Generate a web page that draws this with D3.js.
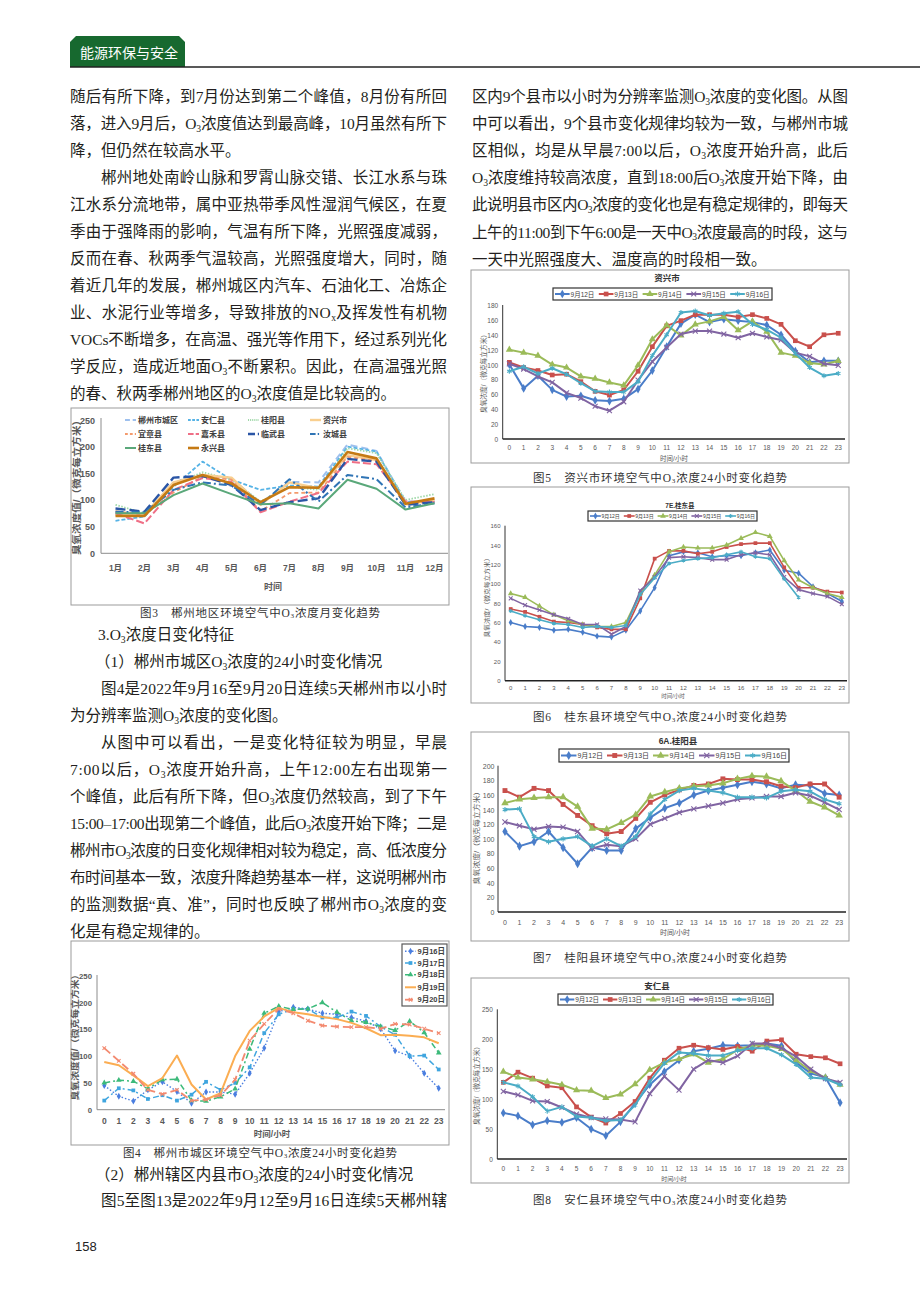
<!DOCTYPE html>
<html><head><meta charset="utf-8">
<script src="https://cdn.jsdelivr.net/npm/d3@7"></script>
<style>body{margin:0;background:#fff}svg{display:block}</style>
</head><body>
<svg id="page" width="920" height="1302"></svg>
<script>
// ---------------- DATA ----------------
const months = ["1月","2月","3月","4月","5月","6月","7月","8月","9月","10月","11月","12月"];
const hours = ["0","1","2","3","4","5","6","7","8","9","10","11","12","13","14","15","16","17","18","19","20","21","22","23"];
const fig3Names = ["郴州市城区","安仁县","桂阳县","资兴市","宜章县","嘉禾县","临武县","汝城县","桂东县","永兴县"];
const m_chenzhou = [77,72,133,147,141,94,134,133,204,192,97,97];
const m_anren    = [61,69,125,172,138,119,127,125,200,191,96,97];
const m_guiyang  = [91,75,129,152,138,97,125,119,197,188,100,111];
const m_zixing   = [72,72,133,147,142,91,133,122,184,175,92,100];
const m_yizhang  = [79,72,114,144,138,79,113,114,181,173,91,98];
const m_jiahe    = [75,56,119,141,134,77,97,113,172,167,97,96];
const m_linwu    = [84,78,142,145,128,81,96,103,177,172,91,96];
const m_rucheng  = [78,77,119,133,127,91,139,97,147,139,86,94];
const m_guidong  = [75,75,109,131,111,92,94,84,138,121,82,94];
const m_yongxing = [70,70,128,147,131,96,124,123,190,178,93,103];
const monthTicks = [0,50,100,150,200,250];

const fig4Days = ["9月16日","9月17日","9月18日","9月19日","9月20日"];
const c_0916 = [45,25,16,37,52,34,12,33,33,29,68,115,183,191,188,180,178,172,165,151,110,100,68,40];
const c_0917 = [17,40,36,20,27,17,28,52,37,50,79,143,178,188,188,172,172,183,175,155,140,100,101,75];
const c_0918 = [50,55,53,39,56,57,17,16,24,39,113,180,193,187,188,200,182,166,163,155,148,165,144,106];
const c_0919 = [89,83,64,44,59,101,47,19,31,100,147,174,190,182,178,173,169,162,152,139,140,138,135,124];
const c_0920 = [115,91,67,37,29,37,17,19,27,56,129,160,188,180,166,157,155,154,154,151,160,159,151,143];
const cityTicks = [0,50,100,150,200,250];

const countyDays = ["9月12日","9月13日","9月14日","9月15日","9月16日"];
const zx_0912 = [100,68,85,66,57,58,52,51,54,67,92,124,155,167,157,161,159,157,153,140,118,103,105,105];
const zx_0913 = [103,96,92,86,87,77,64,59,66,91,124,152,159,167,167,167,164,167,162,154,132,124,140,142];
const zx_0914 = [120,116,112,100,96,84,81,76,72,99,134,153,139,154,158,164,146,158,144,116,112,102,100,105];
const zx_0915 = [101,94,84,76,62,55,44,38,50,79,104,123,141,145,145,141,136,142,137,133,116,111,101,99];
const zx_0916 = [91,97,88,95,87,75,64,63,63,77,112,140,170,172,166,169,171,154,147,136,115,96,85,88];
const zxTicks = [0,20,40,60,80,100,120,140,160,180];

const gd_0912 = [60,56,55,52,53,50,46,45,52,72,96,129,133,132,128,129,129,132,135,114,111,97,90,82];
const gd_0913 = [74,71,66,61,60,58,55,53,53,85,126,134,134,131,133,138,141,142,142,117,96,96,92,91];
const gd_0914 = [90,86,77,68,62,58,56,56,60,91,109,133,138,137,137,140,147,153,149,124,104,96,90,86];
const gd_0915 = [85,78,73,68,64,58,58,48,56,93,107,127,128,127,125,125,130,132,130,107,94,90,87,79];
const gd_0916 = [72,67,63,59,58,55,56,55,57,89,106,121,124,126,127,130,133,128,126,105,86,null,null,null];
const gdTicks = [0,20,40,60,80,100,120,140,160];

const gy_0912 = [110,90,96,110,88,66,88,84,84,114,129,142,149,160,166,170,174,178,175,169,174,173,162,160];
const gy_0913 = [166,157,169,166,147,132,118,107,110,128,150,160,167,173,175,182,181,181,178,172,170,175,175,157];
const gy_0914 = [149,154,156,157,157,144,114,113,122,133,158,164,169,172,173,176,182,186,185,179,166,151,143,132];
const gy_0915 = [123,118,113,117,116,110,87,92,90,100,120,128,136,141,145,149,154,156,158,158,163,159,150,140];
const gy_0916 = [140,141,103,96,100,103,90,100,90,103,134,154,166,169,166,163,157,157,156,165,167,165,154,148];
const gyTicks = [0,20,40,60,80,100,120,140,160,180,200];

const ar_0912 = [77,72,57,64,61,69,50,39,62,93,124,146,165,180,184,190,189,190,193,189,161,143,136,94];
const ar_0913 = [128,145,135,122,119,87,70,60,76,96,135,165,185,190,186,183,188,180,197,199,175,171,169,159];
const ar_0914 = [146,136,133,129,124,115,114,102,108,125,149,161,167,175,161,167,182,190,189,184,165,147,136,124];
const ar_0915 = [113,107,97,96,86,75,69,67,66,62,109,138,115,150,165,161,172,193,193,185,171,150,134,128];
const ar_0916 = [128,122,104,80,87,71,69,64,65,90,129,160,178,176,173,173,181,185,185,174,158,136,134,124];
const arTicks = [0,50,100,150,200,250];

// ---------------- TEXT ----------------
const leftBlock1 = [
  ["随后有所下降，到7月份达到第二个峰值，8月份有所回",70,447],
  ["落，进入9月后，O_3浓度值达到最高峰，10月虽然有所下",70,447],
  ["降，但仍然在较高水平。",70,null],
  ["郴州地处南岭山脉和罗霄山脉交错、长江水系与珠",101,447],
  ["江水系分流地带，属中亚热带季风性湿润气候区，在夏",70,447],
  ["季由于强降雨的影响，气温有所下降，光照强度减弱，",70,447],
  ["反而在春、秋两季气温较高，光照强度增大，同时，随",70,447],
  ["着近几年的发展，郴州城区内汽车、石油化工、冶炼企",70,447],
  ["业、水泥行业等增多，导致排放的NO_x及挥发性有机物",70,447],
  ["VOCs不断增多，在高温、强光等作用下，经过系列光化",70,447],
  ["学反应，造成近地面O_3不断累积。因此，在高温强光照",70,447],
  ["的春、秋两季郴州地区的O_3浓度值是比较高的。",70,null]
];
const leftBlock2 = [
  ["3.O_3浓度日变化特征",98,null],
  ["（1）郴州市城区O_3浓度的24小时变化情况",95,null],
  ["图4是2022年9月16至9月20日连续5天郴州市以小时",101,447],
  ["为分辨率监测O_3浓度的变化图。",70,null],
  ["从图中可以看出，一是变化特征较为明显，早晨",101,447],
  ["7:00以后，O_3浓度开始升高，上午12:00左右出现第一",70,447],
  ["个峰值，此后有所下降，但O_3浓度仍然较高，到了下午",70,447],
  ["15:00–17:00出现第二个峰值，此后O_3浓度开始下降；二是",70,447],
  ["郴州市O_3浓度的日变化规律相对较为稳定，高、低浓度分",70,447],
  ["布时间基本一致，浓度升降趋势基本一样，这说明郴州市",70,447],
  ["的监测数据“真、准”，同时也反映了郴州市O_3浓度的变",70,447],
  ["化是有稳定规律的。",70,null]
];
const leftBlock3 = [
  ["（2）郴州辖区内县市O_3浓度的24小时变化情况",95,null],
  ["图5至图13是2022年9月12至9月16日连续5天郴州辖",101,447]
];
const rightBlock = [
  ["区内9个县市以小时为分辨率监测O_3浓度的变化图。从图",472,848],
  ["中可以看出，9个县市变化规律均较为一致，与郴州市城",472,848],
  ["区相似，均是从早晨7:00以后，O_3浓度开始升高，此后",472,848],
  ["O_3浓度维持较高浓度，直到18:00后O_3浓度开始下降，由",472,848],
  ["此说明县市区内O_3浓度的变化也是有稳定规律的，即每天",472,848],
  ["上午的11:00到下午6:00是一天中O_3浓度最高的时段，这与",472,848],
  ["一天中光照强度大、温度高的时段相一致。",472,null]
];

// ---------------- DRAW ----------------
const SERIF = "'Liberation Serif','Noto Sans CJK SC',serif";
const SANS = "'Liberation Sans','Noto Sans CJK SC',sans-serif";
const CJK = "'Noto Sans CJK SC',sans-serif";
const svg = d3.select("#page");

function rich(parent, str, x, y, o) {
  const size = o.size;
  const t = parent.append("text").attr("x", x).attr("y", y).attr("font-size", size)
    .attr("font-family", o.family || SERIF).attr("fill", o.fill || "#231f20")
    .attr("dominant-baseline", "central");
  if (o.weight) t.attr("font-weight", o.weight);
  const parts = str.split(/(_.)/).filter(p => p);
  let pend = 0, n = 0;
  parts.forEach(p => {
    if (p.length === 2 && p[0] === "_") {
      t.append("tspan").attr("font-size", size * 0.62).attr("dy", pend + size * 0.3).text(p[1]);
      pend = -size * 0.3; n += 1;
    } else {
      const ts = t.append("tspan").text(p);
      if (pend) ts.attr("dy", pend);
      pend = 0; n += [...p].length;
    }
  });
  if (o.width) {
    const nat = t.node().getComputedTextLength();
    t.attr("letter-spacing", (o.width - nat) / (n - 1));
  }
  return t;
}

// header
svg.append("path").attr("d", "M70,67V42L76,36H179L185,42V67Z").attr("fill", "#17692f");
svg.append("text").attr("x", 80).attr("y", 52).attr("dominant-baseline", "central")
  .attr("font-family", CJK).attr("font-size", 14).attr("fill", "#fff").text("能源环保与安全");
svg.append("line").attr("x1", 70).attr("x2", 920).attr("y1", 67).attr("y2", 67)
  .attr("stroke", "#222").attr("stroke-width", 1.5);

function block(lines, y0, dy) {
  lines.forEach((l, i) => {
    rich(svg, l[0], l[1], y0 + dy * i, {size: 15.5, width: l[2] ? l[2] - l[1] : null});
  });
}
block(leftBlock1, 96, 27);
block(leftBlock2, 634, 27);
block(leftBlock3, 1174, 26);
block(rightBlock, 96, 27.1);

// captions
function caption(str, x0, x1, y) { rich(svg, str, x0, y, {size: 11.5, width: x1 - x0, fill: "#333"}); }
caption("图3　郴州地区环境空气中O_3浓度月变化趋势", 140, 380, 613);
caption("图4　郴州市城区环境空气中O_3浓度24小时变化趋势", 123, 397, 1153);
caption("图5　资兴市环境空气中O_3浓度24小时变化趋势", 533, 787, 478);
caption("图6　桂东县环境空气中O_3浓度24小时变化趋势", 533, 787, 717);
caption("图7　桂阳县环境空气中O_3浓度24小时变化趋势", 533, 787, 958);
caption("图8　安仁县环境空气中O_3浓度24小时变化趋势", 533, 787, 1200);

svg.append("text").attr("x", 75).attr("y", 1246).attr("dominant-baseline", "central")
  .attr("font-family", SANS).attr("font-size", 13).attr("fill", "#222").text("158");

// markers
const SYM = {
  diamond: d3.symbolDiamond, square: d3.symbolSquare, triangle: d3.symbolTriangle,
  x: d3.symbolTimes || d3.symbolX || d3.symbolCross, star: d3.symbolAsterisk || d3.symbolCross
};
function marker(g, type, x, y, size, color) {
  const filled = ["diamond", "square", "triangle"].includes(type);
  g.append("path").attr("transform", `translate(${x},${y})`)
    .attr("d", d3.symbol(SYM[type], size)())
    .attr("fill", filled ? color : "none").attr("stroke", filled ? "none" : color)
    .attr("stroke-width", filled ? 0 : 1.1);
}

function lineChart(c) {
  const g = svg.append("g");
  g.append("rect").attr("x", c.box[0]).attr("y", c.box[1])
    .attr("width", c.box[2] - c.box[0]).attr("height", c.box[3] - c.box[1])
    .attr("fill", "none").attr("stroke", "#9b9b9b").attr("stroke-width", 1);
  const x = d3.scaleBand().domain(c.cats).range(c.xRange);
  const y = d3.scaleLinear().domain([0, c.yMax]).range([c.y0, c.yTop]);
  const cx = i => x(c.cats[i]) + x.bandwidth() / 2;
  const ya = g.append("g").attr("transform", `translate(${c.yAxisX},0)`)
    .call(d3.axisLeft(y).tickValues(c.yTicks).tickSize(0).tickSizeOuter(0).tickPadding(c.yPad));
  ya.select(".domain").attr("stroke", c.yAxisColor).attr("stroke-width", c.yAxisW)
    .attr("d", `M0,${c.y0}V${c.yAxisTop}`);
  ya.selectAll("text").attr("dy", null).attr("dominant-baseline", "central")
    .attr("font-family", SANS).attr("font-size", c.tick.size).attr("font-weight", c.tick.weight)
    .attr("fill", c.tick.color);
  const xa = g.append("g").attr("transform", `translate(0,${c.y0})`)
    .call(d3.axisBottom(x).tickSize(0).tickSizeOuter(0).tickPadding(0));
  xa.select(".domain").attr("d", `M${c.yAxisX},0H${c.xAxisEnd}`)
    .attr("stroke", c.xAxisColor).attr("stroke-width", c.xAxisW);
  xa.selectAll("text").attr("y", c.xLabelY - c.y0).attr("dy", null).attr("dominant-baseline", "central")
    .attr("font-family", SANS).attr("font-size", c.xtick.size).attr("font-weight", c.xtick.weight)
    .attr("fill", c.xtick.color);
  c.series.forEach(s => {
    const line = d3.line().defined(d => d != null).x((d, i) => cx(i)).y(d => y(d));
    g.append("path").datum(s.values).attr("d", line).attr("fill", "none")
      .attr("stroke", s.color).attr("stroke-width", s.width)
      .attr("stroke-dasharray", s.dash || null).attr("stroke-linejoin", "round");
    if (s.marker) s.values.forEach((v, i) => { if (v != null) marker(g, s.marker, cx(i), y(v), s.msize, s.color); });
  });
  if (c.title) g.append("text").attr("x", c.title.x).attr("y", c.title.y).attr("text-anchor", "middle")
    .attr("dominant-baseline", "central").attr("font-family", SANS).attr("font-weight", "bold")
    .attr("font-size", c.title.size).attr("fill", "#333").text(c.title.text);
  g.append("text").attr("x", c.xTitle.x).attr("y", c.xTitle.y).attr("text-anchor", "middle")
    .attr("dominant-baseline", "central").attr("font-family", SANS).attr("font-weight", c.xTitle.weight || "normal")
    .attr("font-size", c.xTitle.size).attr("fill", c.xTitle.color || "#595959").text(c.xTitle.text);
  g.append("text").attr("transform", `translate(${c.yTitle.x},${c.yTitle.y}) rotate(-90)`)
    .attr("text-anchor", "middle").attr("dominant-baseline", "central")
    .attr("font-family", SANS).attr("font-weight", c.yTitle.weight || "normal")
    .attr("font-size", c.yTitle.size).attr("fill", c.yTitle.color || "#595959")
    .attr("textLength", c.yTitle.len).attr("lengthAdjust", "spacingAndGlyphs").text(c.yTitle.text);
  return g;
}

// ---- Figure 3 ----
const fig3Values = [m_chenzhou, m_anren, m_guiyang, m_zixing, m_yizhang, m_jiahe, m_linwu, m_rucheng, m_guidong, m_yongxing];
const fig3Styles = [
  {color: "#9ec0ee", width: 2, dash: "7,4"},
  {color: "#56b3e6", width: 1.8, dash: "4,2"},
  {color: "#9fd8a8", width: 1.8, dash: "1.5,1.5"},
  {color: "#f9cf8f", width: 2.4},
  {color: "#f49a6c", width: 1.8, dash: "4,3"},
  {color: "#ef6f86", width: 2, dash: "8,3"},
  {color: "#2a55a5", width: 2.4, dash: "10,4"},
  {color: "#2f74b5", width: 2, dash: "8,3,2,3"},
  {color: "#5aa87a", width: 2},
  {color: "#c57a14", width: 2.6}
];
const g3 = lineChart({
  box: [71, 408, 449, 605], cats: months, xRange: [101, 449], y0: 553.3, yTop: 420, yMax: 250,
  yTicks: monthTicks, yAxisX: 101, yAxisTop: 418, yPad: 6, yAxisColor: "#8c8c8c", yAxisW: 1,
  xAxisEnd: 448, xAxisColor: "#8c8c8c", xAxisW: 1, xLabelY: 568,
  tick: {size: 9, weight: "bold", color: "#595959"}, xtick: {size: 8.5, weight: "bold", color: "#595959"},
  series: fig3Values.map((v, i) => Object.assign({values: v}, fig3Styles[i])),
  xTitle: {text: "时间", x: 273, y: 587, size: 9, weight: "bold"},
  yTitle: {text: "臭氧浓度值/（微克每立方米）", x: 76, y: 485, size: 9.5, len: 140, weight: "bold"}
});
const legCols = [125, 188, 248, 310], legRows = [420, 434, 448];
fig3Names.forEach((n, i) => {
  const cx0 = legCols[i % 4], cy = legRows[Math.floor(i / 4)], s = fig3Styles[i];
  g3.append("line").attr("x1", cx0).attr("x2", cx0 + 11).attr("y1", cy).attr("y2", cy)
    .attr("stroke", s.color).attr("stroke-width", s.width).attr("stroke-dasharray", s.dash ? s.dash.split(",").map(d => d * 0.7).join(",") : null);
  g3.append("text").attr("x", cx0 + 13).attr("y", cy).attr("dominant-baseline", "central")
    .attr("font-family", SANS).attr("font-size", 8).attr("font-weight", "bold").attr("fill", "#404040").text(n);
});

// ---- Figure 4 ----
const fig4Values = [c_0916, c_0917, c_0918, c_0919, c_0920];
const fig4Styles = [
  {color: "#4a7ee0", width: 1.4, dash: "1.5,2", marker: "diamond", msize: 14},
  {color: "#3fa5df", width: 1.5, dash: "6,3,2,3", marker: "square", msize: 14},
  {color: "#3cba7a", width: 1.5, dash: "6,3,2,3", marker: "triangle", msize: 14},
  {color: "#fbad52", width: 2},
  {color: "#f38a70", width: 1.8, dash: "8,4", marker: "x", msize: 10}
];
const g4 = lineChart({
  box: [71, 941, 449, 1145], cats: hours, xRange: [97, 446], y0: 1109.7, yTop: 975.7, yMax: 250,
  yTicks: cityTicks, yAxisX: 97, yAxisTop: 975, yPad: 5, yAxisColor: "#8c8c8c", yAxisW: 1,
  xAxisEnd: 445, xAxisColor: "#8c8c8c", xAxisW: 1, xLabelY: 1120.7,
  tick: {size: 7.8, weight: "bold", color: "#595959"}, xtick: {size: 8.5, weight: "bold", color: "#595959"},
  series: fig4Values.map((v, i) => Object.assign({values: v}, fig4Styles[i])),
  xTitle: {text: "时间/小时", x: 272, y: 1134, size: 8.5, weight: "bold"},
  yTitle: {text: "臭氧浓度值/（微克每立方米）", x: 75, y: 1035, size: 8.5, len: 131, weight: "bold"}
});
g4.append("rect").attr("x", 402).attr("y", 944).attr("width", 45).attr("height", 62)
  .attr("fill", "#fff").attr("stroke", "#595959").attr("stroke-width", 1.2);
const leg4Y = [951.3, 963, 974.7, 987.3, 999.7];
fig4Days.forEach((n, i) => {
  const s = fig4Styles[i], yy = leg4Y[i];
  g4.append("line").attr("x1", 405).attr("x2", 416).attr("y1", yy).attr("y2", yy)
    .attr("stroke", s.color).attr("stroke-width", s.width).attr("stroke-dasharray", s.dash || null);
  if (s.marker) marker(g4, s.marker, 410.5, yy, s.msize, s.color);
  g4.append("text").attr("x", 417.5).attr("y", yy).attr("dominant-baseline", "central")
    .attr("font-family", SANS).attr("font-size", 7.5).attr("font-weight", "bold").attr("fill", "#404040").text(n);
});

// ---- County charts ----
const dayColors = ["#4a7dc9", "#c9504c", "#9bbb59", "#8064a2", "#4bacc6"];
const dayMarkers = ["diamond", "square", "triangle", "x", "star"];
function countyChart(c, values) {
  c.series = values.map((v, i) => ({values: v, color: dayColors[i], width: c.lw, marker: dayMarkers[i],
    msize: dayMarkers[i] === "x" || dayMarkers[i] === "star" ? c.ms * 0.8 : c.ms}));
  c.yAxisColor = "#333"; c.yAxisW = 1; c.xAxisColor = "#222"; c.xAxisW = 1.6;
  c.tick = {size: c.fs, weight: "normal", color: "#595959"};
  c.xtick = {size: c.fs, weight: "normal", color: "#595959"};
  const g = lineChart(c);
  const b = c.legend;
  g.append("rect").attr("x", b[0]).attr("y", b[1]).attr("width", b[2] - b[0]).attr("height", b[3] - b[1])
    .attr("fill", "#fff").attr("stroke", "#333").attr("stroke-width", 1.2);
  const w = (b[2] - b[0]) / countyDays.length, cy = (b[1] + b[3]) / 2;
  countyDays.forEach((n, i) => {
    const s0 = b[0] + i * w;
    g.append("line").attr("x1", s0 + 2).attr("x2", s0 + w * 0.38).attr("y1", cy).attr("y2", cy)
      .attr("stroke", dayColors[i]).attr("stroke-width", c.lw);
    marker(g, dayMarkers[i], s0 + 2 + (w * 0.38 - 2) / 2, cy, c.series[i].msize, dayColors[i]);
    g.append("text").attr("x", s0 + w * 0.4).attr("y", cy).attr("dominant-baseline", "central")
      .attr("font-family", SANS).attr("font-size", c.lfs).attr("fill", "#404040").text(n);
  });
  return g;
}

countyChart({
  box: [471, 270, 849, 463], cats: hours, xRange: [502.2, 845.4], y0: 439, yTop: 305, yMax: 180,
  yTicks: zxTicks, yAxisX: 502.7, yAxisTop: 305, yPad: 4.5, xAxisEnd: 845, xLabelY: 447.7,
  fs: 6.5, lw: 2, ms: 22, lfs: 6.5, legend: [553, 288, 772, 300],
  title: {text: "资兴市", x: 667, y: 278, size: 8.5},
  xTitle: {text: "时间/小时", x: 674, y: 458, size: 6.5},
  yTitle: {text: "臭氧浓度/（微克每立方米）", x: 483, y: 372, size: 6.5, len: 82}
}, [zx_0912, zx_0913, zx_0914, zx_0915, zx_0916]);

countyChart({
  box: [471, 487, 849, 703], cats: hours, xRange: [503.5, 849], y0: 680.7, yTop: 525.7, yMax: 160,
  yTicks: gdTicks, yAxisX: 505, yAxisTop: 525.7, yPad: 4.5, xAxisEnd: 847, xLabelY: 688,
  fs: 6, lw: 1.6, ms: 14, lfs: 5, legend: [588, 511, 757, 521],
  title: {text: "7E.桂东县", x: 680, y: 505, size: 6.5},
  xTitle: {text: "时间/小时", x: 673, y: 696, size: 5.5},
  yTitle: {text: "臭氧浓度/（微克每立方米）", x: 487, y: 596, size: 6, len: 83}
}, [gd_0912, gd_0913, gd_0914, gd_0915, gd_0916]);

countyChart({
  box: [471, 732, 849, 941], cats: hours, xRange: [497.7, 846.4], y0: 912, yTop: 765.7, yMax: 200,
  yTicks: gyTicks, yAxisX: 498, yAxisTop: 765.7, yPad: 3.5, xAxisEnd: 846, xLabelY: 922.3,
  fs: 7, lw: 2, ms: 24, lfs: 7, legend: [559, 749, 789, 762],
  title: {text: "6A.桂阳县", x: 678, y: 741, size: 8.5},
  xTitle: {text: "时间/小时", x: 675, y: 932, size: 7},
  yTitle: {text: "臭氧浓度/（微克每立方米）", x: 476, y: 836, size: 7, len: 97}
}, [gy_0912, gy_0913, gy_0914, gy_0915, gy_0916]);

countyChart({
  box: [471, 978, 849, 1183], cats: hours, xRange: [496, 847.4], y0: 1159, yTop: 1009.3, yMax: 250,
  yTicks: arTicks, yAxisX: 497.3, yAxisTop: 1009.3, yPad: 4.5, xAxisEnd: 847, xLabelY: 1168,
  fs: 6.5, lw: 2, ms: 22, lfs: 6.5, legend: [558, 994, 773, 1005],
  title: {text: "安仁县", x: 657, y: 986, size: 8.5},
  xTitle: {text: "时间/小时", x: 674, y: 1179, size: 6},
  yTitle: {text: "臭氧浓度/（微克每立方米）", x: 476, y: 1084, size: 6.5, len: 82}
}, [ar_0912, ar_0913, ar_0914, ar_0915, ar_0916]);
</script>
</body></html>
